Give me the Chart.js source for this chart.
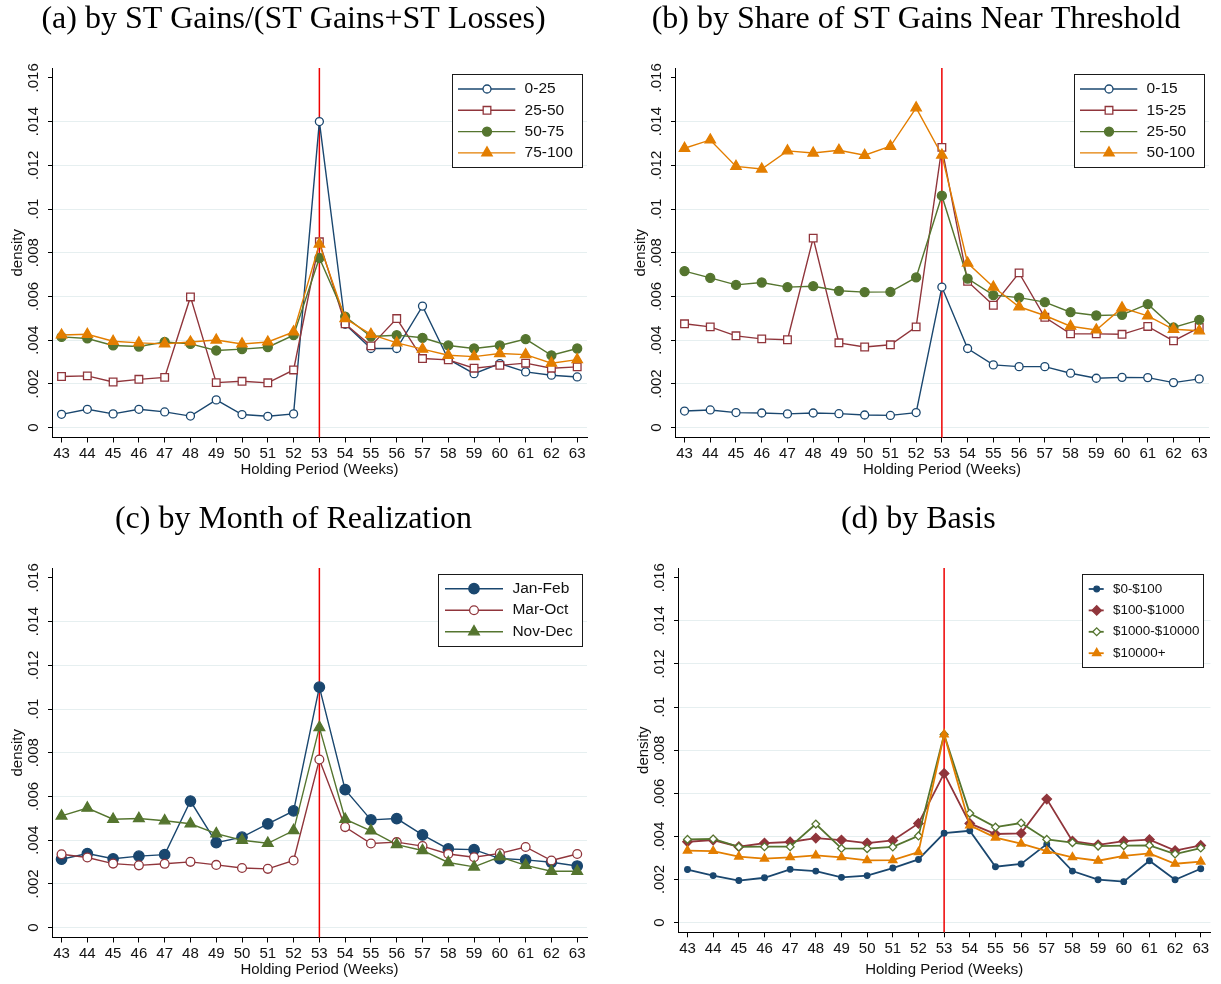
<!DOCTYPE html>
<html>
<head>
<meta charset="utf-8">
<script src="https://cdn.jsdelivr.net/npm/chart.js@4"></script>
<style>
  html, body { margin: 0; padding: 0; background: #fff; }
  body { width: 1221px; height: 984px; position: relative; overflow: hidden; }
  canvas { position: absolute; }
</style>
</head>
<body>
<canvas id="panelA" width="600" height="484" style="left:0px;top:0px"></canvas>
<canvas id="panelB" width="598" height="484" style="left:623px;top:0px"></canvas>
<canvas id="panelC" width="600" height="484" style="left:0px;top:500px"></canvas>
<canvas id="panelD" width="595" height="484" style="left:626px;top:500px"></canvas>
<script>
const weeks = [43, 44, 45, 46, 47, 48, 49, 50, 51, 52, 53, 54, 55, 56, 57, 58, 59, 60, 61, 62, 63];
const yTickValues = [0, 0.002, 0.004, 0.006, 0.008, 0.01, 0.012, 0.014, 0.016];
const yTickLabels = ['0', '.002', '.004', '.006', '.008', '.01', '.012', '.014', '.016'];
const thresholdWeek = 53;

// (a) ST gains / (ST gains + ST losses)
const ratio0to25 = [0.00061, 0.00084, 0.00063, 0.00084, 0.00072, 0.00053, 0.00127, 0.0006, 0.00052, 0.00063, 0.014, 0.00473, 0.00362, 0.00362, 0.00556, 0.00313, 0.00247, 0.00293, 0.00255, 0.0024, 0.00232];
const ratio25to50 = [0.00234, 0.00237, 0.00209, 0.00221, 0.0023, 0.00598, 0.00206, 0.00212, 0.00205, 0.00264, 0.0085, 0.00475, 0.00374, 0.00499, 0.00316, 0.0031, 0.00272, 0.00285, 0.00295, 0.00272, 0.00278];
const ratio50to75 = [0.00415, 0.00408, 0.00376, 0.00371, 0.00392, 0.00383, 0.00353, 0.00359, 0.00368, 0.00423, 0.00776, 0.00508, 0.00417, 0.00423, 0.00411, 0.00376, 0.00362, 0.00376, 0.00405, 0.00331, 0.00362];
const ratio75to100 = [0.00424, 0.00427, 0.00395, 0.00388, 0.00383, 0.00392, 0.00401, 0.00383, 0.00392, 0.00438, 0.0084, 0.00499, 0.00427, 0.00388, 0.00359, 0.00331, 0.00325, 0.00339, 0.00334, 0.00295, 0.00311];

// (b) share of ST gains near threshold
const share0to15 = [0.00076, 0.00081, 0.00069, 0.00067, 0.00063, 0.00067, 0.00064, 0.00058, 0.00056, 0.00069, 0.00643, 0.00362, 0.00287, 0.00279, 0.00279, 0.00249, 0.00226, 0.0023, 0.00229, 0.00206, 0.00223];
const share15to25 = [0.00475, 0.00461, 0.0042, 0.00406, 0.00402, 0.00867, 0.00388, 0.00369, 0.00379, 0.00461, 0.01282, 0.00669, 0.0056, 0.00708, 0.00505, 0.00429, 0.00429, 0.00427, 0.00463, 0.00397, 0.00458];
const share25to50 = [0.00716, 0.00685, 0.00653, 0.00664, 0.00643, 0.00647, 0.00626, 0.0062, 0.00621, 0.00687, 0.01061, 0.00682, 0.00606, 0.00595, 0.00574, 0.00528, 0.00513, 0.00516, 0.00565, 0.00458, 0.00493];
const share50to100 = [0.01278, 0.01316, 0.01195, 0.01183, 0.01266, 0.01256, 0.01269, 0.01246, 0.01287, 0.01463, 0.01247, 0.00753, 0.00643, 0.00553, 0.00513, 0.00464, 0.00447, 0.00548, 0.00511, 0.0045, 0.00443];

// (c) month of realization
const janFeb = [0.00313, 0.00339, 0.00315, 0.00327, 0.00334, 0.00579, 0.00389, 0.00414, 0.00475, 0.00534, 0.011, 0.00631, 0.00493, 0.00499, 0.00424, 0.0036, 0.00357, 0.00316, 0.0031, 0.00299, 0.00282];
const marOct = [0.00336, 0.00321, 0.00293, 0.00285, 0.00292, 0.00301, 0.00287, 0.00273, 0.00269, 0.00307, 0.00769, 0.0046, 0.00385, 0.00391, 0.00373, 0.00337, 0.00322, 0.0034, 0.00369, 0.00307, 0.00337];
const novDec = [0.00511, 0.00547, 0.00496, 0.00499, 0.00489, 0.00475, 0.0043, 0.004, 0.00386, 0.00444, 0.00916, 0.00496, 0.00443, 0.0038, 0.00353, 0.00298, 0.00278, 0.00324, 0.00285, 0.00258, 0.00258];

// (d) basis
const basis0to100 = [0.00246, 0.00218, 0.00195, 0.00208, 0.00247, 0.00239, 0.0021, 0.00218, 0.00253, 0.00293, 0.00415, 0.00426, 0.00259, 0.00272, 0.00364, 0.00239, 0.00199, 0.0019, 0.00287, 0.00199, 0.0025];
const basis100to1000 = [0.00375, 0.00383, 0.00352, 0.00369, 0.00374, 0.00392, 0.00383, 0.00369, 0.00381, 0.0046, 0.00692, 0.0046, 0.00411, 0.00414, 0.00573, 0.00378, 0.00361, 0.00378, 0.00385, 0.00334, 0.00358];
const basis1000to10000 = [0.00386, 0.00388, 0.00351, 0.00352, 0.00352, 0.00457, 0.00344, 0.00343, 0.00351, 0.00402, 0.00873, 0.00507, 0.00443, 0.00462, 0.00386, 0.00371, 0.00355, 0.00357, 0.00358, 0.00318, 0.00346];
const basis10000plus = [0.00334, 0.00332, 0.00306, 0.00297, 0.00303, 0.00312, 0.00303, 0.00289, 0.0029, 0.00327, 0.00873, 0.00451, 0.00394, 0.00366, 0.00332, 0.00303, 0.00287, 0.0031, 0.00321, 0.00273, 0.00283];

const navy = '#1a476f';
const maroon = '#90353b';
const green = '#55752f';
const orange = '#e37e00';

Chart.defaults.font.family = '"Liberation Sans", Arial, sans-serif';
Chart.defaults.font.size = 15;
Chart.defaults.color = '#111';

// marker looks
const hollowCircle = { style: 'circle', radius: 4, hollow: true };
const hollowSquare = { style: 'rect', radius: 5.4, hollow: true };
const solidCircle = { style: 'circle', radius: 4.5 };
const solidTriangle = { style: 'triangle', radius: 6 };
const bigCircle = { style: 'circle', radius: 5.2 };
const midHollowCircle = { style: 'circle', radius: 4.4, hollow: true };
const bigTriangle = { style: 'triangle', radius: 6.2 };
const smallCircle = { style: 'circle', radius: 2.8, line: 1.8 };
const diamond = { style: 'rectRot', radius: 4.7, line: 1.8 };
const hollowDiamond = { style: 'rectRot', radius: 3.9, hollow: true, line: 1.8 };
const smallTriangle = { style: 'triangle', radius: 4.8, line: 1.8 };

function series(label, values, color, marker, i) {
  return {
    label: label,
    data: values.map((v, k) => ({ x: weeks[k], y: v })),
    borderColor: color,
    backgroundColor: color,
    borderWidth: marker.line || 1.4,
    pointStyle: marker.style,
    pointRadius: marker.radius,
    pointBorderWidth: 1.3,
    pointBorderColor: color,
    pointBackgroundColor: marker.hollow ? '#fff' : color,
    tension: 0,
    order: -i
  };
}

const drawMarker = (Chart.helpers && Chart.helpers.drawPoint) || function (ctx, o, x, y) {
  ctx.beginPath();
  ctx.arc(x, y, o.radius, 0, Math.PI * 2);
  ctx.fill();
  ctx.stroke();
};

// red reference line at the one-year mark
const thresholdLine = {
  id: 'thresholdLine',
  beforeDatasetsDraw(chart) {
    const { ctx, chartArea, scales } = chart;
    const x = scales.x.getPixelForValue(thresholdWeek);
    ctx.save();
    ctx.strokeStyle = '#ee0000';
    ctx.lineWidth = 1.5;
    ctx.beginPath();
    ctx.moveTo(x, chartArea.top);
    ctx.lineTo(x, chartArea.bottom);
    ctx.stroke();
    ctx.restore();
  }
};

// boxed legend in the upper right corner of the plot
const insetLegend = {
  id: 'insetLegend',
  afterDraw(chart, args, opts) {
    const { ctx, chartArea } = chart;
    const left = Math.round(chartArea.right - opts.right - opts.width);
    const top = Math.round(chartArea.top + opts.top);
    ctx.save();
    ctx.fillStyle = '#fff';
    ctx.fillRect(left, top, opts.width, opts.height);
    ctx.strokeStyle = '#1a1a1a';
    ctx.lineWidth = 1;
    ctx.strokeRect(left + 0.5, top + 0.5, Math.round(opts.width), Math.round(opts.height));
    ctx.font = opts.fontSize + 'px "Liberation Sans", Arial, sans-serif';
    ctx.textBaseline = 'middle';
    ctx.textAlign = 'left';
    chart.data.datasets.forEach((ds, i) => {
      const y = top + opts.firstRow + i * opts.rowGap;
      ctx.strokeStyle = ds.borderColor;
      ctx.lineWidth = ds.borderWidth;
      ctx.beginPath();
      ctx.moveTo(left + opts.lineStart, y);
      ctx.lineTo(left + opts.lineEnd, y);
      ctx.stroke();
      ctx.fillStyle = ds.pointBackgroundColor;
      ctx.strokeStyle = ds.pointBorderColor;
      ctx.lineWidth = ds.pointBorderWidth;
      drawMarker(ctx, { pointStyle: ds.pointStyle, radius: ds.pointRadius, borderWidth: ds.pointBorderWidth, rotation: 0 }, left + opts.marker, y);
      ctx.fillStyle = '#111';
      ctx.fillText(ds.label, left + opts.text, y);
    });
    ctx.restore();
  }
};

function makePanel(id, title, datasets, layout) {
  return new Chart(document.getElementById(id), {
    type: 'line',
    data: { datasets: datasets },
    options: {
      responsive: false,
      animation: false,
      events: [],
      layout: { padding: { left: 0, top: 0, bottom: 0, right: layout.padRight } },
      plugins: {
        legend: { display: false },
        tooltip: { enabled: false },
        title: {
          display: true,
          text: title,
          color: '#000',
          font: { family: '"Liberation Serif", "Times New Roman", serif', size: 32, weight: 'normal', lineHeight: 1.2 },
          padding: { top: 0, bottom: 29.6 }
        },
        insetLegend: layout.legend
      },
      scales: {
        x: {
          type: 'linear',
          min: 42.63,
          max: 63.38,
          afterBuildTicks: s => { s.ticks = weeks.map(v => ({ value: v })); },
          afterFit: s => { s.height = layout.xAxisHeight; s.paddingLeft = 0; s.paddingRight = 0; },
          ticks: { autoSkip: false, maxRotation: 0, padding: 2.5, color: '#111', callback: v => String(v) },
          grid: { drawOnChartArea: false, tickLength: 5, tickColor: '#000' },
          border: { color: '#000', width: 1 },
          title: { display: true, text: 'Holding Period (Weeks)', color: '#111', padding: { top: 0, bottom: 5 } }
        },
        y: {
          type: 'linear',
          min: -0.00045,
          max: 0.01645,
          afterBuildTicks: s => { s.ticks = yTickValues.map(v => ({ value: v })); },
          afterFit: s => { s.width = 52; s.paddingTop = 0; s.paddingBottom = 0; },
          ticks: { autoSkip: false, minRotation: 90, maxRotation: 90, crossAlign: 'center', padding: 0, color: '#111', callback: (v, i) => yTickLabels[i] },
          grid: {
            color: c => (c.tick && c.tick.value >= 0.016 ? 'rgba(0,0,0,0)' : '#e6eff0'),
            tickLength: 4,
            tickColor: '#000'
          },
          border: { color: '#000', width: 1 },
          title: { display: true, text: 'density', color: '#111', padding: { top: 9, bottom: 0 } }
        }
      }
    },
    plugins: [thresholdLine, insetLegend]
  });
}

const wideLegend = { right: 5.3, top: 6.3, width: 130, height: 93, firstRow: 15, rowGap: 21.3, lineStart: 6, lineEnd: 63.3, marker: 35, text: 72.6, fontSize: 15.5 };

makePanel('panelA', '(a) by ST Gains/(ST Gains+ST Losses)', [
  series('0-25', ratio0to25, navy, hollowCircle, 0),
  series('25-50', ratio25to50, maroon, hollowSquare, 1),
  series('50-75', ratio50to75, green, solidCircle, 2),
  series('75-100', ratio75to100, orange, solidTriangle, 3)
], { padRight: 13, xAxisHeight: 46.5, legend: wideLegend });

makePanel('panelB', '(b) by Share of ST Gains Near Threshold', [
  series('0-15', share0to15, navy, hollowCircle, 0),
  series('15-25', share15to25, maroon, hollowSquare, 1),
  series('25-50', share25to50, green, solidCircle, 2),
  series('50-100', share50to100, orange, solidTriangle, 3)
], { padRight: 12, xAxisHeight: 46.5, legend: wideLegend });

makePanel('panelC', '(c) by Month of Realization', [
  series('Jan-Feb', janFeb, navy, bigCircle, 0),
  series('Mar-Oct', marOct, maroon, midHollowCircle, 1),
  series('Nov-Dec', novDec, green, bigTriangle, 2)
], { padRight: 13, xAxisHeight: 46.5, legend: { right: 5.3, top: 6, width: 144, height: 71.7, firstRow: 14.7, rowGap: 21.5, lineStart: 7, lineEnd: 65, marker: 36, text: 74.4, fontSize: 15.5 } });

makePanel('panelD', '(d) by Basis', [
  series('$0-$100', basis0to100, navy, smallCircle, 0),
  series('$100-$1000', basis100to1000, maroon, diamond, 1),
  series('$1000-$10000', basis1000to10000, green, hollowDiamond, 2),
  series('$10000+', basis10000plus, orange, smallTriangle, 3)
], { padRight: 10.5, xAxisHeight: 51.7, legend: { right: 7.2, top: 6, width: 121, height: 93.3, firstRow: 15, rowGap: 21.4, lineStart: 6.7, lineEnd: 21.7, marker: 14.7, text: 31, fontSize: 13.4 } });
</script>
</body>
</html>
